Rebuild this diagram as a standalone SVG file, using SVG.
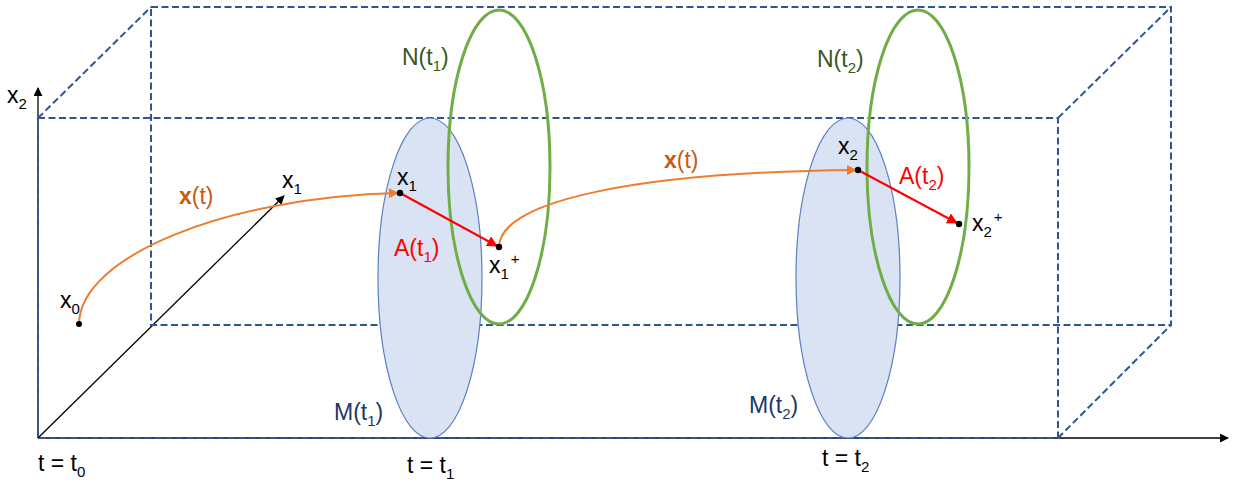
<svg xmlns="http://www.w3.org/2000/svg" width="1235" height="483" viewBox="0 0 1235 483">
<defs>
<style>
.box{fill:none;stroke:#2f5597;stroke-width:2;stroke-dasharray:7 3.5}
.axis{fill:none;stroke:#000;stroke-width:1.3}
.traj{fill:none;stroke:#ed7d31;stroke-width:2}
.jump{fill:none;stroke:#ff0000;stroke-width:2}
.m{fill:#dae3f3;stroke:#5b7fc4;stroke-width:1.2}
.n{fill:none;stroke:#70ad47;stroke-width:3}
text{font-family:"Liberation Sans",Arial,sans-serif;font-size:23px;fill:#000}
.sub{font-size:15px}
.or{fill:#c55a11}
.rd{fill:#ff0000}
.gr{fill:#385723}
.bl{fill:#203864}
</style>
<marker id="ab" viewBox="0 0 10 10" refX="9" refY="5" markerWidth="9" markerHeight="9" markerUnits="userSpaceOnUse" orient="auto"><path d="M0,0 L10,5 L0,10 z" fill="#000"/></marker>
<marker id="ao" viewBox="0 0 10 10" refX="9" refY="5" markerWidth="10" markerHeight="10" markerUnits="userSpaceOnUse" orient="auto"><path d="M0,0 L10,5 L0,10 z" fill="#ed7d31"/></marker>
<marker id="ar" viewBox="0 0 10 10" refX="9" refY="5" markerWidth="11" markerHeight="11" markerUnits="userSpaceOnUse" orient="auto"><path d="M0,0 L10,5 L0,10 z" fill="#ff0000"/></marker>
</defs>

<g id="axes">
<line class="axis" x1="38" y1="438" x2="38" y2="88" marker-end="url(#ab)"/>
<line class="axis" x1="38" y1="438" x2="1228" y2="438" marker-end="url(#ab)"/>
<line class="axis" x1="38" y1="438" x2="284" y2="196" marker-end="url(#ab)"/>
<text x="7" y="103">x<tspan class="sub" dy="6">2</tspan></text>
<text x="282" y="188">x<tspan class="sub" dy="6">1</tspan></text>
</g>

<g id="box">
<rect class="box" x="151" y="7" width="1020" height="318"/>
<rect class="box" x="38" y="118" width="1020" height="320"/>
<line class="box" x1="38" y1="118" x2="151" y2="7"/>
<line class="box" x1="1058" y1="118" x2="1171" y2="7"/>
<line class="box" x1="1058" y1="438" x2="1171" y2="325"/>
</g>

<g id="M1">
<ellipse class="m" cx="430" cy="278" rx="52" ry="160"/>
<text class="bl" x="334" y="420">M(t<tspan class="sub" dy="6">1</tspan><tspan dy="-6">)</tspan></text>
</g>
<g id="M2">
<ellipse class="m" cx="848" cy="278" rx="52" ry="160"/>
<text class="bl" x="749" y="413">M(t<tspan class="sub" dy="6">2</tspan><tspan dy="-6">)</tspan></text>
</g>

<g id="N1">
<ellipse class="n" cx="499" cy="167" rx="51" ry="157"/>
<text class="gr" x="402" y="65">N(t<tspan class="sub" dy="6">1</tspan><tspan dy="-6">)</tspan></text>
</g>
<g id="N2">
<ellipse class="n" cx="918" cy="167" rx="51" ry="157"/>
<text class="gr" x="817" y="67">N(t<tspan class="sub" dy="6">2</tspan><tspan dy="-6">)</tspan></text>
</g>

<g id="connectors">
<path class="traj" d="M79,324 C80,255 230,197 398,193" marker-end="url(#ao)"/>
<path class="traj" d="M499,247 C500,200 640,172 856,170" marker-end="url(#ao)"/>
<line class="jump" x1="400" y1="193" x2="497" y2="246" marker-end="url(#ar)"/>
<line class="jump" x1="858" y1="170" x2="957" y2="223" marker-end="url(#ar)"/>
</g>

<g id="x0">
<circle cx="79" cy="324" r="3"/>
<text x="60" y="308">x<tspan class="sub" dy="6">0</tspan></text>
</g>
<g id="x1">
<circle cx="400" cy="193" r="3.2"/>
<text x="397" y="185">x<tspan class="sub" dy="6">1</tspan></text>
</g>
<g id="x1p">
<circle cx="499" cy="247" r="3.2"/>
<text x="489" y="273">x<tspan class="sub" dy="6">1</tspan><tspan class="sub" dy="-15" dx="2">+</tspan></text>
</g>
<g id="x2">
<circle cx="858" cy="170" r="3.2"/>
<text x="838" y="154">x<tspan class="sub" dy="6">2</tspan></text>
</g>
<g id="x2p">
<circle cx="959" cy="224" r="3.2"/>
<text x="972" y="231">x<tspan class="sub" dy="6">2</tspan><tspan class="sub" dy="-15" dx="2">+</tspan></text>
</g>

<g id="labels">
<text class="or" x="179" y="204"><tspan font-weight="bold">x</tspan>(t)</text>
<text class="or" x="664" y="168"><tspan font-weight="bold">x</tspan>(t)</text>
<text class="rd" x="394" y="256">A(t<tspan class="sub" dy="6">1</tspan><tspan dy="-6">)</tspan></text>
<text class="rd" x="899" y="184">A(t<tspan class="sub" dy="6">2</tspan><tspan dy="-6">)</tspan></text>
<text x="38" y="471">t = t<tspan class="sub" dy="6">0</tspan></text>
<text x="407" y="473">t = t<tspan class="sub" dy="6">1</tspan></text>
<text x="822" y="466">t = t<tspan class="sub" dy="6">2</tspan></text>
</g>
</svg>
